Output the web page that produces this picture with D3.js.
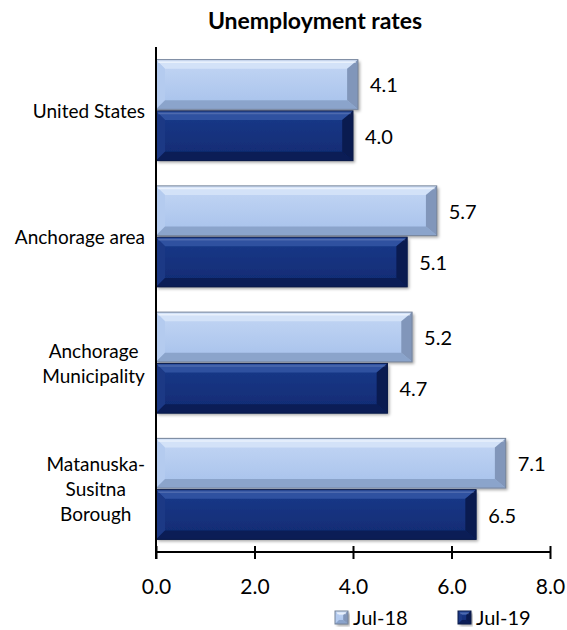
<!DOCTYPE html>
<html>
<head>
<meta charset="utf-8">
<title>Unemployment rates</title>
<script src="https://d3js.org/d3.v7.min.js"></script>
<style>
  body { margin: 0; background: #fff; }
  text { font-family: Lato, "Noto Sans", sans-serif; fill: #000; }
</style>
</head>
<body>
<div id="chart"></div>
<script>
// data
var categoryLines = [["United States"], ["Anchorage area"], ["Anchorage", "Municipality"], ["Matanuska-", "Susitna", "Borough"]];
var categories = ["United States", "Anchorage area", "Anchorage Municipality", "Matanuska-Susitna Borough"];
var seriesNames = ["Jul-18", "Jul-19"];
var jul18 = [4.1, 5.7, 5.2, 7.1];
var jul19 = [4.0, 5.1, 4.7, 6.5];
var xTicks = [0, 2, 4, 6, 8];

var width = 567, height = 630;
var svg = d3.select("#chart").append("svg")
    .attr("width", width)
    .attr("height", height);

// colours for the bevelled bars: face, top, left, bottom, right, outline
var styles = [
  {face: ["#c3d6f4", "#a6c1eb"], top: "#d3e2f8", left: "#b4cbef", bottom: "#8ba4cb", right: "#8196ba", line: "#75839a"},
  {face: ["#1b3a8a", "#0f2a72"], top: "#2f51a0", left: "#1c3985", bottom: "#0b1d56", right: "#0a1b50", line: "#0a1a48"}
];

var defs = svg.append("defs");
styles.forEach(function(s, i) {
  var g = defs.append("linearGradient").attr("id", "face" + i)
      .attr("x1", 0).attr("y1", 0).attr("x2", 0).attr("y2", 1);
  g.append("stop").attr("offset", "0%").attr("stop-color", s.face[0]);
  g.append("stop").attr("offset", "100%").attr("stop-color", s.face[1]);
});
var shadow = defs.append("filter").attr("id", "shadow")
    .attr("x", "-5%").attr("y", "-10%").attr("width", "115%").attr("height", "130%");
shadow.append("feDropShadow").attr("dx", 2).attr("dy", 2).attr("stdDeviation", 1.5)
    .attr("flood-color", "#000").attr("flood-opacity", 0.35);

var x = d3.scaleLinear().domain([0, 8]).range([156, 550]);
var y = d3.scaleBand().domain(categories).range([47, 552]).paddingInner(0.2).paddingOuter(0.1);
var ySub = d3.scaleBand().domain(seriesNames).range([0, y.bandwidth()]).paddingInner(0.03);

function bevel(g, x0, y0, x1, y1, s, b, idx) {
  var pts = function(a) { return a.map(function(p) { return p.join(","); }).join(" "); };
  var bx = b * 1.2;
  g.append("rect").attr("x", x0).attr("y", y0).attr("width", x1 - x0).attr("height", y1 - y0)
      .attr("fill", "url(#face" + idx + ")").attr("filter", "url(#shadow)");
  g.append("polygon").attr("points", pts([[x0, y0], [x1, y0], [x1 - bx, y0 + b], [x0 + b, y0 + b]])).attr("fill", s.top);
  g.append("polygon").attr("points", pts([[x0, y0], [x0 + b, y0 + b], [x0 + b, y1 - b], [x0, y1]])).attr("fill", s.left);
  g.append("polygon").attr("points", pts([[x0, y1], [x1, y1], [x1 - bx, y1 - b], [x0 + b, y1 - b]])).attr("fill", s.bottom);
  g.append("polygon").attr("points", pts([[x1, y0], [x1 - bx, y0 + b], [x1 - bx, y1 - b], [x1, y1]])).attr("fill", s.right);
  g.append("line").attr("x1", x0 + 2).attr("x2", x1 - 2).attr("y1", y0 + 2.5).attr("y2", y0 + 2.5)
      .attr("stroke", "#fff").attr("stroke-opacity", idx === 0 ? 0.5 : 0.15).attr("stroke-width", 1.5);
  g.append("rect").attr("x", x0).attr("y", y0).attr("width", x1 - x0).attr("height", y1 - y0)
      .attr("fill", "none").attr("stroke", s.line).attr("stroke-width", 1);
}

// title
svg.append("text")
    .attr("x", 315).attr("y", 20)
    .attr("text-anchor", "middle").attr("dominant-baseline", "central")
    .attr("font-size", 23).attr("font-weight", "bold")
    .text("Unemployment rates");

// bars
var seriesData = [jul18, jul19];
seriesData.forEach(function(vals, si) {
  var gs = svg.append("g").attr("class", "series-" + si);
  vals.forEach(function(v, ci) {
    var y0 = y(categories[ci]) + ySub(seriesNames[si]);
    var y1 = y0 + ySub.bandwidth();
    bevel(gs.append("g"), x(0), y0, x(v), y1, styles[si], 9, si);
    gs.append("text")
        .attr("x", x(v) + 12).attr("y", (y0 + y1) / 2)
        .attr("dominant-baseline", "central")
        .attr("font-size", 20)
        .text(d3.format(".1f")(v));
  });
});

// y axis line and category labels
svg.append("line").attr("x1", 156).attr("x2", 156).attr("y1", 47).attr("y2", 559)
    .attr("stroke", "#000").attr("stroke-width", 2);

categories.forEach(function(c, ci) {
  var lines = categoryLines[ci];
  var t = svg.append("text").attr("font-size", 19).attr("text-anchor", "middle");
  var lh = 25;
  var cy = y(c) + y.bandwidth() / 2;
  lines.forEach(function(l, li) {
    t.append("tspan").attr("x", 0).attr("y", cy + (li - (lines.length - 1) / 2) * lh)
        .attr("dominant-baseline", "central").text(l);
  });
  var w = t.node().getBBox().width;
  t.selectAll("tspan").attr("x", 145 - w / 2);
});

// x axis
var xAxis = d3.axisBottom(x).tickValues(xTicks).tickFormat(d3.format(".1f")).tickSize(7);
var ax = svg.append("g").attr("transform", "translate(0,552)").call(xAxis);
ax.select(".domain").attr("stroke-width", 2).attr("d", "M156,0H550");
ax.selectAll(".tick line").attr("y1", -6).attr("y2", 7).attr("stroke-width", 2);
ax.selectAll(".tick text").attr("y", 33).attr("dy", null)
    .attr("dominant-baseline", "central").attr("font-size", 21).attr("fill", "#000")
    .attr("font-family", "Lato, 'Noto Sans', sans-serif");

// legend
var legendX = [335, 458];
seriesNames.forEach(function(n, si) {
  var g = svg.append("g");
  bevel(g, legendX[si], 611, legendX[si] + 13, 624, styles[si], 4, si);
  g.append("text").attr("x", legendX[si] + 18).attr("y", 617)
      .attr("dominant-baseline", "central").attr("font-size", 20).text(n);
});
</script>
</body>
</html>
